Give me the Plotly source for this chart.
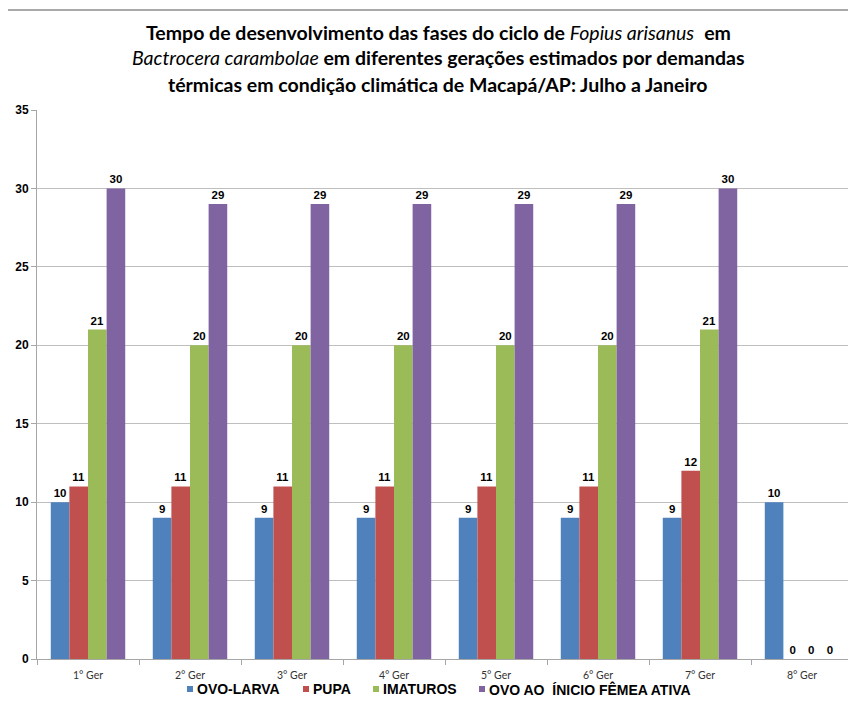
import plotly.graph_objects as go

categories = ["1° Ger", "2° Ger", "3° Ger", "4° Ger", "5° Ger", "6° Ger", "7° Ger", "8° Ger"]
ovo_larva = [10, 9, 9, 9, 9, 9, 9, 10]
pupa = [11, 11, 11, 11, 11, 11, 12, 0]
imaturos = [21, 20, 20, 20, 20, 20, 21, 0]
ovo_femea = [30, 29, 29, 29, 29, 29, 30, 0]
series_names = ["OVO-LARVA", "PUPA", "IMATUROS", "OVO AO&nbsp; ÍNICIO FÊMEA ATIVA"]
colors = ["#4F81BD", "#C0504D", "#9BBB59", "#8064A2"]
y_ticks = [0, 5, 10, 15, 20, 25, 30, 35]

OFF = 8  # page body margin
L, R, T, B = 37 - OFF, 853 - OFF, 110 - OFF, 659 - OFF
W, H = R - L, B - T


def px(x):
    return (x - OFF - L) / W


def py(y):
    return (B - (y - OFF)) / H


fig = go.Figure()
for name, vals, col in zip(series_names, [ovo_larva, pupa, imaturos, ovo_femea], colors):
    fig.add_trace(go.Bar(
        x=categories, y=vals, name=name,
        marker=dict(color=col, line=dict(width=0)),
        text=[str(v) for v in vals], textposition="outside",
        textfont=dict(family="Liberation Sans", size=11.5, color="black", weight="bold"),
        cliponaxis=False, showlegend=False,
    ))

fig.update_layout(
    width=856, height=714,
    paper_bgcolor="white", plot_bgcolor="white",
    margin=dict(l=L, r=856 - R, t=T, b=714 - B),
    barmode="group", bargap=0.27, bargroupgap=0,
    showlegend=False,
    font=dict(family="Liberation Sans"),
)
fig.update_yaxes(range=[0, 35], tickvals=y_ticks, showgrid=True, gridcolor="#BFBFBF", gridwidth=1,
                 showline=True, linecolor="#A6A6A6", linewidth=1, ticks="outside", ticklen=5,
                 tickcolor="#A6A6A6", zeroline=False, automargin=False,
                 tickfont=dict(family="Liberation Sans", size=12, color="black", weight="bold"))
fig.update_xaxes(showline=True, linecolor="#A6A6A6", linewidth=1, ticks="outside", ticklen=5,
                 tickcolor="#A6A6A6", tickson="boundaries", automargin=False, ticklabelstandoff=6,
                 tickfont=dict(family="Lato", size=10.5, color="#333333"))

# outer chart frame (left and top edges visible)
fig.add_shape(type="line", xref="paper", yref="paper", x0=px(7), x1=px(7), y0=py(760), y1=py(10),
              line=dict(color="#8C8C8C", width=1.5))
fig.add_shape(type="line", xref="paper", yref="paper", x0=px(7), x1=px(900), y0=py(10), y1=py(10),
              line=dict(color="#8C8C8C", width=1.5))

# legend (custom, to match spacing)
legend_sq_x = [187, 303, 373, 479]
legend_y = 689
for name, col, sx in zip(series_names, colors, legend_sq_x):
    fig.add_shape(type="rect", xref="paper", yref="paper", x0=px(sx), x1=px(sx + 6),
                  y0=py(legend_y + 3), y1=py(legend_y - 3), fillcolor=col, line=dict(width=0))
    fig.add_annotation(text="<b>" + name + "</b>", xref="paper", yref="paper", x=px(sx + 8),
                       y=py(legend_y), xanchor="left", yanchor="middle", showarrow=False,
                       font=dict(family="Liberation Sans", size=14, color="black"))

title_lines = [
    "<b>Tempo de desenvolvimento das fases do ciclo de </b><i>Fopius arisanus</i>&nbsp; <b>em</b>",
    "<i>Bactrocera carambolae</i><b> em diferentes gerações estimados por demandas</b>",
    "<b>térmicas em condição climática de Macapá/AP: Julho a Janeiro</b>",
]
title_y = [32, 58, 84]
for line, yp in zip(title_lines, title_y):
    fig.add_annotation(text=line, xref="paper", yref="paper", x=px(438), y=py(yp),
                       xanchor="center", yanchor="middle", showarrow=False,
                       font=dict(family="Lato", size=19.5, color="black"))

fig.write_html("out.html")
